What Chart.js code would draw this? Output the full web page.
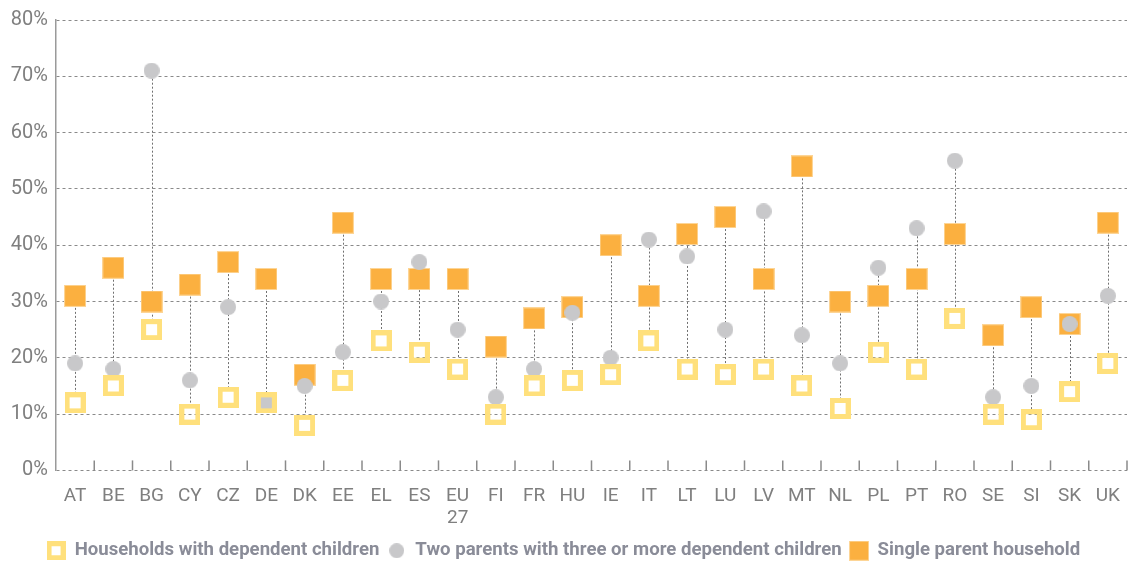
<!DOCTYPE html>
<html><head><meta charset="utf-8">
<script src="https://cdn.jsdelivr.net/npm/chart.js@4/dist/chart.umd.min.js"></script>
<style>html,body{margin:0;padding:0;background:#fff}</style>
</head><body>
<canvas id="c" width="1134" height="562"></canvas>
<script>
const categories = ['AT','BE','BG','CY','CZ','DE','DK','EE','EL','ES',['EU','27'],'FI','FR','HU','IE','IT','LT','LU','LV','MT','NL','PL','PT','RO','SE','SI','SK','UK'];
const householdsWithChildren = [12,15,25,10,13,12,8,16,23,21,18,10,15,16,17,23,18,17,18,15,11,21,18,27,10,9,14,19];
const twoParentsThreePlus = [19,18,71,16,29,12,15,21,30,37,25,13,18,28,20,41,38,25,46,24,19,36,43,55,13,15,26,31];
const singleParent = [31,36,30,33,37,34,17,44,34,34,34,22,27,29,40,31,42,45,34,54,30,31,34,42,24,29,26,44];
const seriesNames = ['Households with dependent children','Two parents with three or more dependent children','Single parent household'];
const yMin = 0, yMax = 80, yStep = 10;

const YELLOW = '#FFE07C', GRAY = '#C8C8CA', ORANGE = '#FBB040';
const YELLOW_SIZE = 21;

function makeIcon(kind, s){
  const c = document.createElement('canvas');
  c.width = s; c.height = s;
  const g = c.getContext('2d');
  if (kind === 0){
    const b = Math.round(s*0.26);
    g.fillStyle = YELLOW; g.fillRect(0,0,s,s);
    g.clearRect(b,b,s-2*b,s-2*b);
  } else if (kind === 1){
    g.fillStyle = GRAY; g.beginPath(); g.arc(s/2,s/2,s/2,0,Math.PI*2); g.fill();
  } else {
    g.fillStyle = '#FDD596'; g.fillRect(0,0,s,s);
    g.fillStyle = ORANGE; g.fillRect(1,1,s-2,s-2);
  }
  return c;
}
const pointIcons = [makeIcon(0,YELLOW_SIZE), makeIcon(1,16), makeIcon(2,22)];
const legendIcons = [makeIcon(0,19), makeIcon(1,15), makeIcon(2,20)];

const dropLines = {
  id: 'dropLines',
  beforeDatasetsDraw(chart){
    const {ctx, scales:{x,y}} = chart;
    ctx.save();
    ctx.strokeStyle = '#707070';
    ctx.lineWidth = 1;
    ctx.setLineDash([2,2]);
    categories.forEach((_, i) => {
      const vals = [householdsWithChildren[i], twoParentsThreePlus[i], singleParent[i]];
      const lo = Math.min(...vals);
      const px = Math.round(x.getPixelForValue(i)) + 0.5;
      let yEnd = y.getPixelForValue(lo);
      if (householdsWithChildren[i] === lo) yEnd -= YELLOW_SIZE/2;
      ctx.beginPath();
      ctx.moveTo(px, y.getPixelForValue(Math.max(...vals)));
      ctx.lineTo(px, yEnd);
      ctx.stroke();
    });
    ctx.setLineDash([]);
    ctx.strokeStyle = '#8a8a8a';
    ctx.lineWidth = 1.5;
    const base = y.getPixelForValue(yMin);
    const step = x.getPixelForValue(1) - x.getPixelForValue(0);
    for (let i = 1; i <= categories.length; i++){
      const px = x.getPixelForValue(i-1) + step/2;
      ctx.beginPath();
      ctx.moveTo(px, base);
      ctx.lineTo(px, base - 10);
      ctx.stroke();
    }
    ctx.restore();
  }
};

new Chart(document.getElementById('c'), {
  type: 'line',
  data: {
    labels: categories,
    datasets: [
      { label: seriesNames[0], data: householdsWithChildren, showLine:false,
        pointStyle: pointIcons[0], borderColor: YELLOW, backgroundColor:'rgba(0,0,0,0)' },
      { label: seriesNames[1], data: twoParentsThreePlus, showLine:false,
        pointStyle: pointIcons[1], borderColor: GRAY, backgroundColor: GRAY },
      { label: seriesNames[2], data: singleParent, showLine:false,
        pointStyle: pointIcons[2], borderColor: ORANGE, backgroundColor: ORANGE }
    ]
  },
  options: {
    responsive:false, animation:false,
    layout:{ padding:{ top:10, right:7, left:0, bottom:-8 } },
    plugins:{
      tooltip:{enabled:false},
      legend:{
        position:'bottom',
        labels:{
          usePointStyle:true,
          color:'#8a8c98',
          font:{family:'Roboto', weight:'bold', size:18.6},
          padding:8,
          generateLabels(chart){
            return chart.data.datasets.map((d,i)=>({
              text:d.label, pointStyle:legendIcons[i], fillStyle:'#fff', strokeStyle:'#fff', lineWidth:0,
              fontColor:'#8a8c98', hidden:false, datasetIndex:i
            }));
          }
        }
      }
    },
    scales:{
      x:{
        offset:true,
        grid:{display:false},
        border:{display:false},
        ticks:{color:'#7f7f7f', font:{family:'Roboto', size:19, weight:'normal'}, padding:6, maxRotation:0, autoSkip:false},
        afterFit(s){ s.height = 63; }
      },
      y:{
        min:yMin, max:yMax,
        ticks:{stepSize:yStep, color:'#7f7f7f', font:{family:'Roboto', size:20, weight:'normal'}, padding:8, callback:v=>v+'%'},
        grid:{color:'#8a8a8a', lineWidth:1, drawTicks:false},
        border:{display:true, color:'#9a9a9a', width:1.5, dash:[3,3]},
        afterFit(s){ s.width = 56; }
      }
    }
  },
  plugins:[dropLines]
});
</script>
</body></html>
